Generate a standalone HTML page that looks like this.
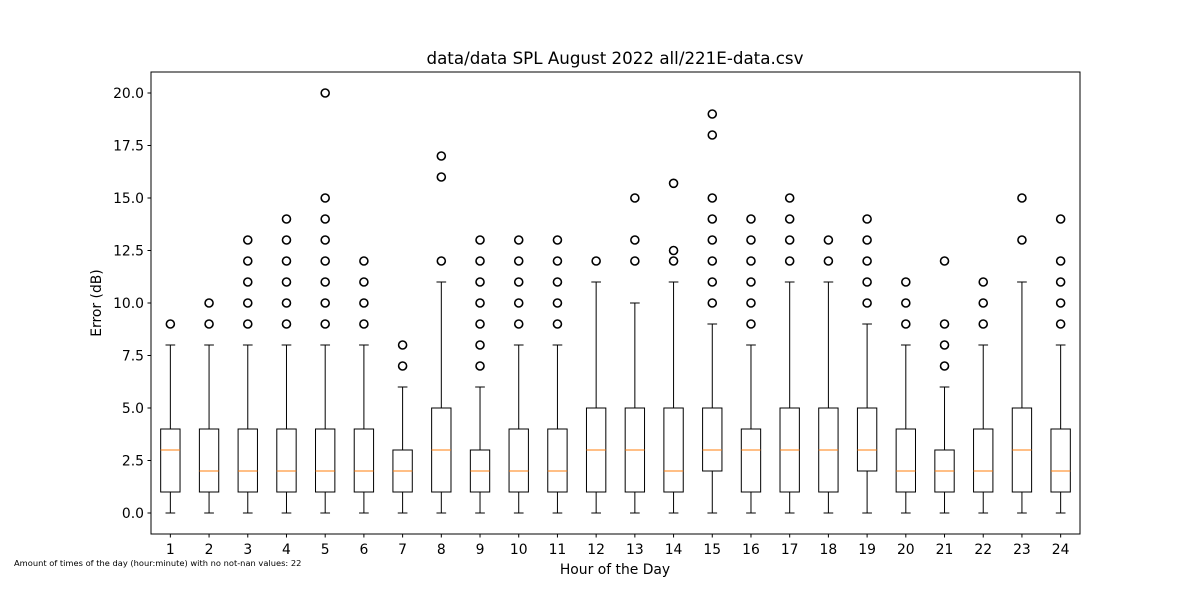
<!DOCTYPE html>
<html><head><meta charset="utf-8"><style>
body{margin:0;background:#fff;}
svg{font-family:"DejaVu Sans","Liberation Sans",sans-serif;}
</style></head><body>
<svg id="chart" width="1200" height="600" xmlns="http://www.w3.org/2000/svg">
<rect width="1200" height="600" fill="#fff"/>
<text x="615" y="64" font-size="16.7" text-anchor="middle">data/data SPL August 2022 all/221E-data.csv</text>
<text x="615" y="574" font-size="13.9" text-anchor="middle">Hour of the Day</text>
<text transform="translate(101,303) rotate(-90)" font-size="13.9" text-anchor="middle">Error (dB)</text>
<text x="14" y="566" font-size="8.3">Amount of times of the day (hour:minute) with no not-nan values: 22</text>
<g id="marks"></g>
<rect x="151" y="72" width="929" height="462" fill="none" stroke="#000" stroke-width="1"/>
</svg>
<script>
const hours = [1,2,3,4,5,6,7,8,9,10,11,12,13,14,15,16,17,18,19,20,21,22,23,24];
const q1 = [1,1,1,1,1,1,1,1,1,1,1,1,1,1,2,1,1,1,2,1,1,1,1,1];
const med = [3,2,2,2,2,2,2,3,2,2,2,3,3,2,3,3,3,3,3,2,2,2,3,2];
const q3 = [4,4,4,4,4,4,3,5,3,4,4,5,5,5,5,4,5,5,5,4,3,4,5,4];
const wLow = [0,0,0,0,0,0,0,0,0,0,0,0,0,0,0,0,0,0,0,0,0,0,0,0];
const wHigh = [8,8,8,8,8,8,6,11,6,8,8,11,10,11,9,8,11,11,9,8,6,8,11,8];
const fliers = [[9],[9,10],[9,10,11,12,13],[9,10,11,12,13,14],[9,10,11,12,13,14,15,20],[9,10,11,12],[7,8],[12,16,17],[7,8,9,10,11,12,13],[9,10,11,12,13],[9,10,11,12,13],[12],[12,13,15],[12,12.5,15.7],[10,11,12,13,14,15,18,19],[9,10,11,12,13,14],[12,13,14,15],[12,13],[10,11,12,13,14],[9,10,11],[7,8,9,12],[9,10,11],[13,15],[9,10,11,12,14]];
const yTicks = [0,2.5,5,7.5,10,12.5,15,17.5,20];

const L=151,R=1080,T=72,B=534;
const xs = v => L + (v-0.5)/24*(R-L);
const ys = v => B - (v+1)/22*(B-T);
const NS="http://www.w3.org/2000/svg";
const svg=document.getElementById('chart');
const g=document.getElementById('marks');
function mk(tag,attrs,parent){const e=document.createElementNS(NS,tag);for(const k in attrs)e.setAttribute(k,attrs[k]);(parent||g).appendChild(e);return e;}

yTicks.forEach(t=>{
  const y=ys(t);
  const tk=mk('line',{x1:L-3.5,x2:L,y1:y,y2:y,stroke:'#000'});
  
  
  const lb=mk('text',{x:L-7,y:y+5,'font-size':13.9,'text-anchor':'end'});
  lb.textContent=t.toFixed(1);
  
  
});
hours.forEach((h,i)=>{
  const x=xs(h), hw=(R-L)/24*0.25, cw=hw/2;
  const tk=mk('line',{x1:x,x2:x,y1:B,y2:B+3.5,stroke:'#000'});
  
  
  const lb=mk('text',{x:x,y:B+20,'font-size':13.9,'text-anchor':'middle'});
  lb.textContent=h;
  
  
  const bg=mk('g',{});
  
  
  mk('line',{x1:x,x2:x,y1:ys(q1[i]),y2:ys(wLow[i]),stroke:'#000'},bg);
  mk('line',{x1:x,x2:x,y1:ys(q3[i]),y2:ys(wHigh[i]),stroke:'#000'},bg);
  mk('line',{x1:x-cw,x2:x+cw,y1:ys(wLow[i]),y2:ys(wLow[i]),stroke:'#000'},bg);
  mk('line',{x1:x-cw,x2:x+cw,y1:ys(wHigh[i]),y2:ys(wHigh[i]),stroke:'#000'},bg);
  mk('rect',{x:x-hw,y:ys(q3[i]),width:2*hw,height:ys(q1[i])-ys(q3[i]),fill:'none',stroke:'#000'},bg);
  mk('line',{x1:x-hw,x2:x+hw,y1:ys(med[i]),y2:ys(med[i]),stroke:'#ff7f0e'},bg);
  fliers[i].forEach(f=>{
    const c=mk('circle',{cx:x,cy:ys(f),r:4,fill:'none',stroke:'#000','stroke-width':1.6},bg);
    
    
  });
});
</script>
</body></html>
